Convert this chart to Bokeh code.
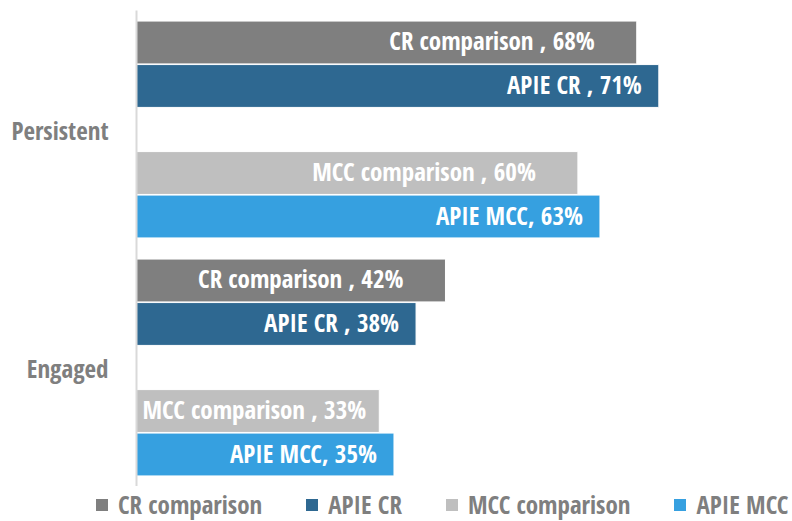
from bokeh.plotting import figure
from bokeh.layouts import column
from bokeh.models import ColumnDataSource, Legend, LegendItem, FixedTicker, Range1d
from bokeh.core.properties import value
from bokeh.embed import file_html
from bokeh.resources import INLINE

# ---- data ----
categories = ["Persistent", "Engaged"]
series_names = ["CR comparison", "APIE CR", "MCC comparison", "APIE MCC"]
label_names = ["CR comparison ", "APIE CR ", "MCC comparison ", "APIE MCC"]
cr_comparison = [68, 42]
apie_cr = [71, 38]
mcc_comparison = [60, 33]
apie_mcc = [63, 35]

series_values = [cr_comparison, apie_cr, mcc_comparison, apie_mcc]
colors = ["#7f7f7f", "#2e6891", "#bfbfbf", "#36a0e0"]
slot_offsets = [2, 1, -1, -2]
label_insets = [42, 17, 42, 17]
SLOT = 0.1828
FONT = "Open Sans Condensed"
FS = "25px"

W = 790
H1, H2 = 486, 35
BL, BT = 136, 10
X_END = 88.9
px_per_unit = (W - BL) / X_END

cat_pos = {"Persistent": 1, "Engaged": 0}

p = figure(width=W, height=H1, output_backend="svg", toolbar_location=None,
           x_range=Range1d(0, X_END), y_range=Range1d(-0.5, 1.5),
           x_axis_type=None, min_border_left=BL, min_border_right=0,
           min_border_top=BT, min_border_bottom=0)
p.frame_align = False
p.outline_line_color = None
p.grid.visible = False
p.background_fill_color = "white"

for name, lname, vals, col, off, inset in zip(series_names, label_names, series_values,
                                              colors, slot_offsets, label_insets):
    ys = [cat_pos[c] + off * SLOT for c in categories]
    labels = [f"{lname}, {v}%" for v in vals]
    src = ColumnDataSource(dict(y=ys, right=vals))
    p.hbar(y="y", left=0, right="right", height=0.18, source=src,
           fill_color=col, line_color="white", line_width=1)
    right_idx, left_idx = [], []
    for i, (v, lab) in enumerate(zip(vals, labels)):
        est_w = len(lab) * 0.45 * 25
        if v * px_per_unit - inset < est_w + 6:
            left_idx.append(i)
        else:
            right_idx.append(i)
    if right_idx:
        p.text(x=[vals[i] for i in right_idx], y=[ys[i] for i in right_idx],
               text=[labels[i] for i in right_idx], text_align="right",
               text_baseline="middle", x_offset=-inset, y_offset=-2, text_color="white",
               text_font=value(FONT), text_font_style="bold", text_font_size=FS)
    if left_idx:
        p.text(x=[0 for i in left_idx], y=[ys[i] for i in left_idx],
               text=[labels[i] for i in left_idx], text_align="left",
               text_baseline="middle", x_offset=6, y_offset=-2, text_color="white",
               text_font=value(FONT), text_font_style="bold", text_font_size=FS)

yax = p.yaxis[0]
yax.ticker = FixedTicker(ticks=[cat_pos[c] for c in categories])
yax.major_label_overrides = {cat_pos[c]: c for c in categories}
yax.axis_line_color = "#d9d9d9"
yax.axis_line_width = 2
yax.major_tick_line_color = None
yax.minor_tick_line_color = None
yax.major_tick_out = 0
yax.major_tick_in = 0
yax.major_label_standoff = 28
yax.major_label_text_font = FONT
yax.major_label_text_font_style = "bold"
yax.major_label_text_font_size = FS
yax.major_label_text_color = "#7f7f7f"

# ---- legend strip below the chart (legend proxies sit outside the visible range) ----
p2 = figure(width=W, height=H2, output_backend="svg", toolbar_location=None,
            x_range=Range1d(0, 1), y_range=Range1d(0, 1),
            x_axis_type=None, y_axis_type=None, min_border=0)
p2.frame_align = False
p2.outline_line_color = None
p2.grid.visible = False
items = []
for name, col in zip(series_names, colors):
    r = p2.hbar(y=[-5], left=[0], right=[0], height=1, fill_color=col, line_color=None)
    items.append(LegendItem(label=name, renderers=[r]))
legend = Legend(items=items, location=(94, 0), orientation="horizontal",
                border_line_color=None, background_fill_alpha=0,
                padding=0, margin=0, spacing=42, label_standoff=9,
                glyph_width=15, glyph_height=15,
                label_text_font=FONT, label_text_font_style="bold",
                label_text_font_size=FS, label_text_color="#7f7f7f")
p2.add_layout(legend, "center")

layout = column(p, p2, spacing=0)
open("out.html", "w").write(file_html(layout, INLINE))
